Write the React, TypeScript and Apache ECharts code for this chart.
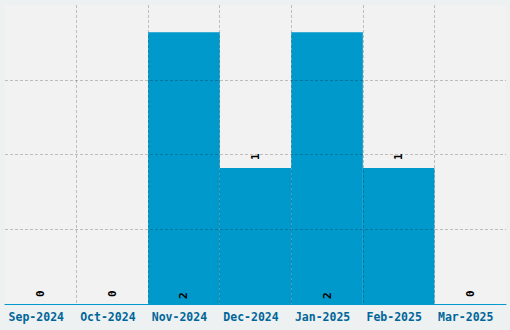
import React, { useEffect, useRef } from "react";
import * as echarts from "echarts";

const categories = ["Sep-2024", "Oct-2024", "Nov-2024", "Dec-2024", "Jan-2025", "Feb-2025", "Mar-2025"];
const values = [0, 0, 2, 1, 2, 1, 0];

export default function App() {
  const ref = useRef<HTMLDivElement>(null);
  useEffect(() => {
    const chart = echarts.init(ref.current!, null, { renderer: "svg" });
    const mono = "'DejaVu Sans Mono', monospace";
    const grid = { color: "rgba(0,0,0,0.22)", type: [3, 2] as any, width: 1 };
    chart.setOption({
      animation: false,
      backgroundColor: "#eef1f2",
      grid: { left: 5, right: 4, top: 5, bottom: 26, show: true, backgroundColor: "#f2f2f2", borderWidth: 0 },
      xAxis: {
        type: "category",
        data: categories,
        z: 5,
        axisLine: { show: true, lineStyle: { color: "#0099cc", width: 1 } },
        axisTick: { show: false },
        axisLabel: {
          interval: 0,
          color: "#006699",
          fontFamily: mono,
          fontWeight: "bold",
          fontSize: 11.5,
          margin: 7,
          padding: [0, 9, 0, 0],
        },
        splitLine: { show: true, showMinLine: false, showMaxLine: false, lineStyle: grid },
      },
      yAxis: {
        type: "value",
        min: 0,
        max: 2.2,
        interval: 0.55,
        z: 5,
        axisLine: { show: false },
        axisTick: { show: false },
        axisLabel: { show: false },
        splitLine: { show: true, showMinLine: false, showMaxLine: false, lineStyle: grid },
      },
      series: [
        {
          type: "bar",
          data: values.map((v) => ({
            value: v,
            label:
              v === 1
                ? { position: "top", distance: 8 }
                : { position: "insideBottom", distance: v === 0 ? 7 : 5 },
          })),
          barCategoryGap: 0,
          itemStyle: { color: "#0099cc" },
          label: {
            show: true,
            rotate: 90,
            align: "left",
            verticalAlign: "middle",
            color: "#000",
            textBorderWidth: 0,
            fontFamily: mono,
            fontWeight: "bold",
            fontSize: 11,
          },
        },
      ],
    });
    return () => chart.dispose();
  }, []);
  return <div ref={ref} style={{ position: "fixed", left: 0, top: 0, width: 510, height: 330 }} />;
}
